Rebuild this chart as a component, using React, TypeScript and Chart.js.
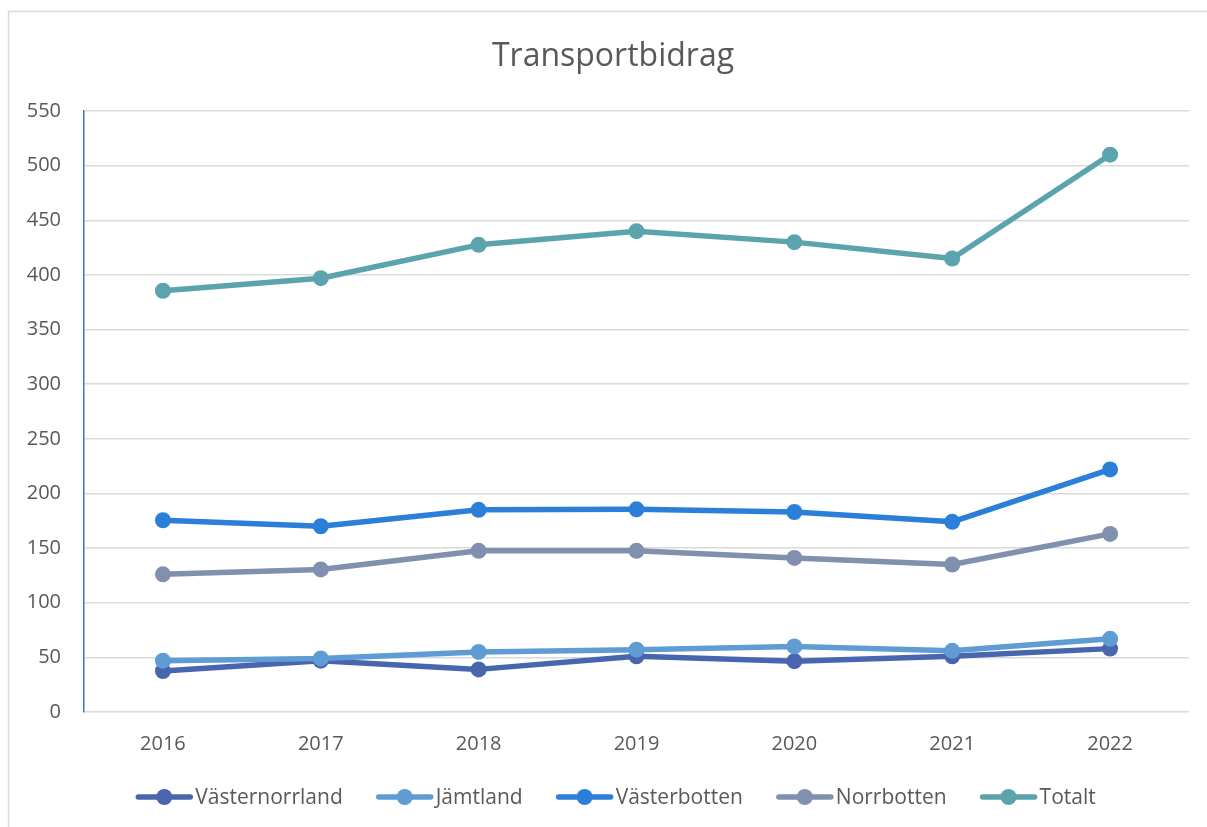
import React, { useEffect, useRef } from "react";
import { Chart, registerables } from "chart.js";

Chart.register(...registerables);

const years = ["2016", "2017", "2018", "2019", "2020", "2021", "2022"];
const vasternorrland = [37.5, 47, 39, 51, 46.5, 51, 58];
const jamtland = [47, 49, 55, 57, 60, 56, 67];
const vasterbotten = [175.5, 170, 185, 185.5, 183, 174, 222];
const norrbotten = [126, 130.5, 147.5, 147.5, 141, 135, 163];
const totalt = [385.5, 397, 427.5, 440, 430, 415, 510];
const seriesNames = ["Västernorrland", "Jämtland", "Västerbotten", "Norrbotten", "Totalt"];
const seriesColors = ["#4866AE", "#5E9CD3", "#2B7FD9", "#8090AE", "#5BA4AE"];
const titleText = "Transportbidrag";

const FONT = "'Open Sans', 'Noto Sans', sans-serif";

export default function App() {
  const ref = useRef<HTMLCanvasElement | null>(null);

  useEffect(() => {
    document.body.style.margin = "0";
    const canvas = ref.current;
    if (!canvas) return;
    const allData = [vasternorrland, jamtland, vasterbotten, norrbotten, totalt];

    const decorPlugin = {
      id: "decor",
      beforeDraw(chart: any) {
        const ctx = chart.ctx;
        ctx.save();
        ctx.fillStyle = "#ffffff";
        ctx.fillRect(0, 0, chart.width, chart.height);
        ctx.strokeStyle = "#D9D9D9";
        ctx.lineWidth = 1.5;
        ctx.beginPath();
        ctx.moveTo(8.5, chart.height + 2);
        ctx.lineTo(8.5, 11.5);
        ctx.lineTo(chart.width + 2, 11.5);
        ctx.stroke();
        ctx.restore();
      },
      afterDraw(chart: any) {
        const ctx = chart.ctx;
        ctx.save();
        // title
        ctx.fillStyle = "#595959";
        ctx.font = `32px ${FONT}`;
        ctx.textAlign = "center";
        ctx.textBaseline = "middle";
        ctx.fillText(titleText, 613, 57);
        // legend
        ctx.font = `21px ${FONT}`;
        const lineLen = 56;
        const gapText = 3;
        const gapItem = 34;
        const widths = seriesNames.map((n) => lineLen + gapText + ctx.measureText(n).width);
        const total = widths.reduce((a, b) => a + b, 0) + gapItem * (seriesNames.length - 1);
        let x = 616 - total / 2;
        const y = 797;
        seriesNames.forEach((name, i) => {
          ctx.strokeStyle = seriesColors[i];
          ctx.fillStyle = seriesColors[i];
          ctx.lineWidth = 5.5;
          ctx.lineCap = "round";
          ctx.beginPath();
          ctx.moveTo(x + 2, y);
          ctx.lineTo(x + lineLen - 2, y);
          ctx.stroke();
          ctx.beginPath();
          ctx.arc(x + lineLen / 2, y, 8, 0, Math.PI * 2);
          ctx.fill();
          ctx.fillStyle = "#595959";
          ctx.textAlign = "left";
          ctx.textBaseline = "middle";
          ctx.fillText(name, x + lineLen + gapText, y + 1);
          x += widths[i] + gapItem;
        });
        ctx.restore();
      },
    };

    const chart = new Chart(canvas, {
      type: "line",
      data: {
        labels: years,
        datasets: seriesNames.map((name, i) => ({
          label: name,
          data: allData[i],
          borderColor: seriesColors[i],
          backgroundColor: seriesColors[i],
          borderWidth: 5.5,
          pointRadius: 8,
          pointHoverRadius: 8,
          pointBorderWidth: 0,
          pointBackgroundColor: seriesColors[i],
          borderCapStyle: "round",
          borderJoinStyle: "round",
          tension: 0,
          fill: false,
          clip: false,
          order: seriesNames.length - i,
        })),
      },
      options: {
        animation: false,
        responsive: false,
        maintainAspectRatio: false,
        layout: { padding: { top: 111, right: 18, bottom: 55, left: 0 } },
        plugins: {
          legend: { display: false },
          title: { display: false },
          tooltip: { enabled: false },
        },
        scales: {
          x: {
            offset: true,
            grid: { display: false, drawTicks: false },
            border: { display: false },
            ticks: {
              color: "#595959",
              font: { family: FONT, size: 20 },
              padding: 20,
              maxRotation: 0,
            },
            afterFit(scale: any) {
              scale.height = 60;
            },
          },
          y: {
            min: 0,
            max: 550,
            grid: { color: "#D9D9D9", lineWidth: 1.5, drawTicks: false },
            border: { display: true, color: "#4472C4", width: 1.5 },
            ticks: {
              stepSize: 50,
              color: "#595959",
              font: { family: FONT, size: 20 },
              padding: 23,
            },
            afterFit(scale: any) {
              scale.width = 84;
            },
          },
        },
      },
      plugins: [decorPlugin],
    } as any);

    return () => chart.destroy();
  }, []);

  return (
    <div style={{ width: 1207, height: 827 }}>
      <canvas ref={ref} width={1207} height={827} style={{ display: "block", width: 1207, height: 827 }} />
    </div>
  );
}
